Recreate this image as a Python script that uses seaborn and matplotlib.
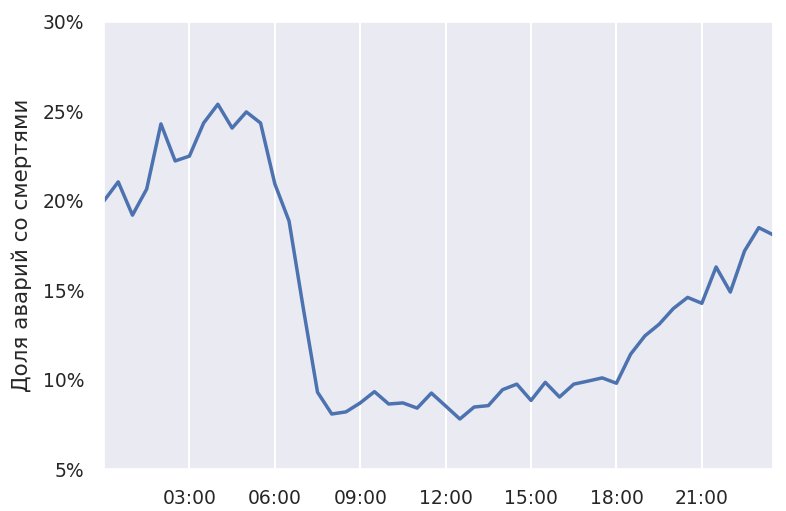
import matplotlib
matplotlib.use("Agg")
import matplotlib.pyplot as plt
import matplotlib.ticker as mticker
import seaborn as sns
import pandas as pd

hours = [i * 0.5 for i in range(48)]
fatal_share = [20.0, 21.06, 19.2, 20.66, 24.3, 22.23, 22.5, 24.35, 25.4, 24.07,
               24.97, 24.35, 20.95, 18.87, 14.0, 9.3, 8.08, 8.2, 8.7, 9.33,
               8.64, 8.7, 8.41, 9.25, 8.53, 7.8, 8.47, 8.55, 9.44, 9.75,
               8.84, 9.85, 9.03, 9.75, 9.92, 10.1, 9.8, 11.43, 12.45, 13.1,
               13.98, 14.6, 14.27, 16.3, 14.9, 17.2, 18.5, 18.1]
tick_hours = [3, 6, 9, 12, 15, 18, 21]
tick_labels = ["03:00", "06:00", "09:00", "12:00", "15:00", "18:00", "21:00"]
y_ticks = [5, 10, 15, 20, 25, 30]

df = pd.DataFrame({"hour": hours, "share": fatal_share})

sns.set_theme(style="darkgrid")
plt.rcParams['font.family'] = ['DejaVu Sans']

fig = plt.figure(figsize=(7.86, 5.11), dpi=100)
ax = fig.add_axes([0.1323, 0.082, 0.8512, 0.875])
sns.lineplot(data=df, x="hour", y="share", ax=ax, color="#4c72b0", linewidth=2.5)

ax.set_xlim(0, 23.5)
ax.set_ylim(5, 30)
ax.set_xticks(tick_hours)
ax.set_xticklabels(tick_labels)
ax.set_yticks(y_ticks)
ax.yaxis.set_major_formatter(mticker.FuncFormatter(lambda v, p: f"{v:.0f}%"))
ax.grid(False, axis="y")
ax.grid(True, axis="x", color="white", linewidth=1.5)
ax.tick_params(axis="both", labelsize=13.5, colors="#262626", pad=8)
ax.set_xlabel("")
ax.set_ylabel("Доля аварий со смертями", fontsize=15.5, color="#262626", labelpad=8)

fig.savefig("out.png", dpi=100)
